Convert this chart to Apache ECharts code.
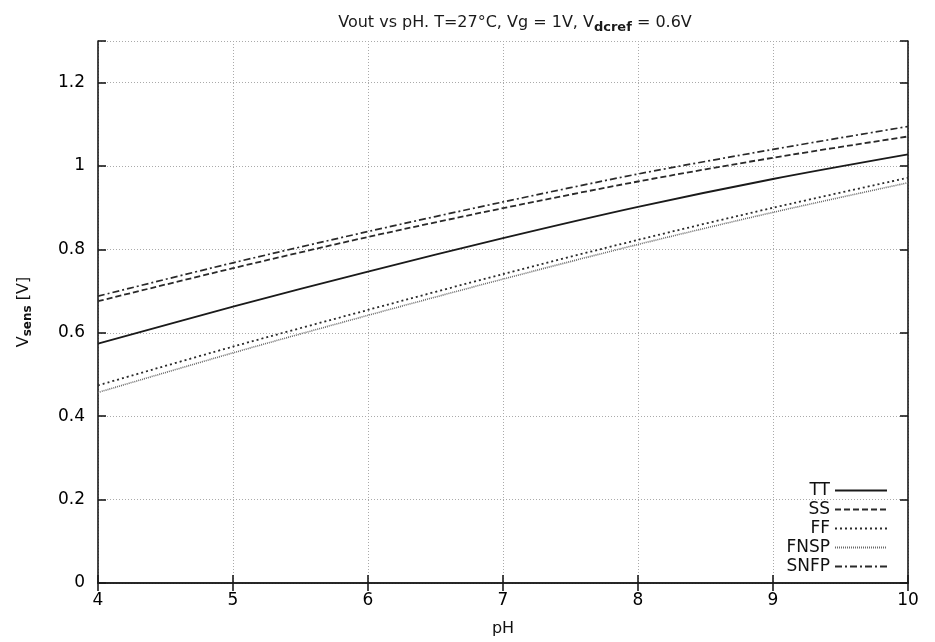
<!DOCTYPE html>
<html>
<head>
<meta charset="utf-8">
<script src="https://cdn.jsdelivr.net/npm/echarts@6/dist/echarts.min.js"></script>
<style>html,body{margin:0;padding:0;background:#fff}#c{width:935px;height:642px}</style>
</head>
<body>
<div id="c"></div>
<script>
const pH = [4, 5, 6, 7, 8, 9, 10];
const TT   = [0.574, 0.663, 0.747, 0.827, 0.902, 0.969, 1.028];
const SS   = [0.676, 0.755, 0.830, 0.899, 0.963, 1.020, 1.071];
const FF   = [0.474, 0.567, 0.655, 0.741, 0.823, 0.900, 0.972];
const FNSP = [0.457, 0.552, 0.642, 0.729, 0.812, 0.889, 0.960];
const SNFP = [0.688, 0.768, 0.843, 0.914, 0.981, 1.040, 1.095];
const seriesNames = ['TT', 'SS', 'FF', 'FNSP', 'SNFP'];
const yTicks = [0, 0.2, 0.4, 0.6, 0.8, 1, 1.2];

const font = 'DejaVu Sans, Liberation Sans, Arial, sans-serif';
const pairs = a => a.map((v, i) => [pH[i], v]);
const styles = {
  TT:   {color: '#1a1a1a', width: 1.8, type: 'solid'},
  SS:   {color: '#2a2a2a', width: 1.8, type: [6, 3]},
  FF:   {color: '#2a2a2a', width: 1.8, type: [2, 3]},
  FNSP: {color: '#6a6a6a', width: 1.6, type: [1, 1]},
  SNFP: {color: '#2a2a2a', width: 1.7, type: [7, 3, 2, 3]}
};
const dataMap = {TT, SS, FF, FNSP, SNFP};

const chart = echarts.init(document.getElementById('c'), null, {renderer: 'canvas'});
const axisLine = {show: true, lineStyle: {color: '#1a1a1a', width: 1.6}};
const tick = {show: true, inside: true, length: 8, lineStyle: {color: '#1a1a1a', width: 1.6}};
chart.setOption({
  animation: false,
  backgroundColor: '#fff',
  title: {
    text: '{a|Vout vs pH. T=27°C, Vg = 1V, V}{s|dcref}{a| = 0.6V}',
    left: 510, top: 7, textAlign: 'center',
    textStyle: {
      fontWeight: 'normal',
      rich: {
        a: {fontFamily: font, fontSize: 16, fontWeight: 'normal', color: '#1a1a1a'},
        s: {fontFamily: font, fontSize: 13, fontWeight: 'bold', color: '#1a1a1a', padding: [9, 0, 0, 0]}
      }
    }
  },
  grid: {left: 98, right: 27, top: 41, bottom: 58, containLabel: false},
  legend: {
    orient: 'vertical', right: 42, bottom: 62, align: 'right',
    itemWidth: 52, itemHeight: 14, itemGap: 2,
    itemStyle: {color: 'transparent', borderColor: 'transparent', borderWidth: 0, opacity: 0},
    textStyle: {fontFamily: font, fontSize: 17, color: '#111', lineHeight: 16},
    data: seriesNames
  },
  xAxis: [{
    type: 'value', min: 4, max: 10, interval: 1,
    name: 'pH', nameLocation: 'middle', nameGap: 38,
    nameTextStyle: {fontFamily: font, fontSize: 16, color: '#111'},
    axisLine, axisTick: tick,
    axisLabel: {fontFamily: font, fontSize: 17, color: '#000', margin: 9},
    splitLine: {show: true, lineStyle: {color: '#aaa', type: [1, 2], width: 1}}
  }, {
    type: 'value', min: 4, max: 10, interval: 1, position: 'top',
    axisLine, axisTick: tick, axisLabel: {show: false}, splitLine: {show: false}
  }],
  yAxis: [{
    type: 'value', min: 0, max: 1.3, interval: 0.2,
    name: '{a|V}{s|sens}{a| [V]}', nameLocation: 'middle', nameGap: 64, nameRotate: 90,
    nameTextStyle: {
      rich: {
        a: {fontFamily: font, fontSize: 16, color: '#111'},
        s: {fontFamily: font, fontSize: 12, fontWeight: 'bold', color: '#111', padding: [8, 0, 0, 0]}
      }
    },
    axisLine, axisTick: tick,
    axisLabel: {fontFamily: font, fontSize: 17, color: '#000', margin: 13,
      formatter: v => yTicks.some(t => Math.abs(t - v) < 1e-9) ? String(+v.toFixed(1)) : ''},
    splitLine: {show: true, lineStyle: {color: '#aaa', type: [1, 2], width: 1}}
  }, {
    type: 'value', min: 0, max: 1.3, interval: 0.2, position: 'right',
    axisLine, axisTick: tick, axisLabel: {show: false}, splitLine: {show: false}
  }],
  series: seriesNames.map(n => ({
    name: n, type: 'line', smooth: 0.3, showSymbol: false, symbol: 'none',
    data: pairs(dataMap[n]),
    lineStyle: styles[n], itemStyle: {color: styles[n].color},
    emphasis: {disabled: true}
  }))
});
</script>
</body>
</html>
